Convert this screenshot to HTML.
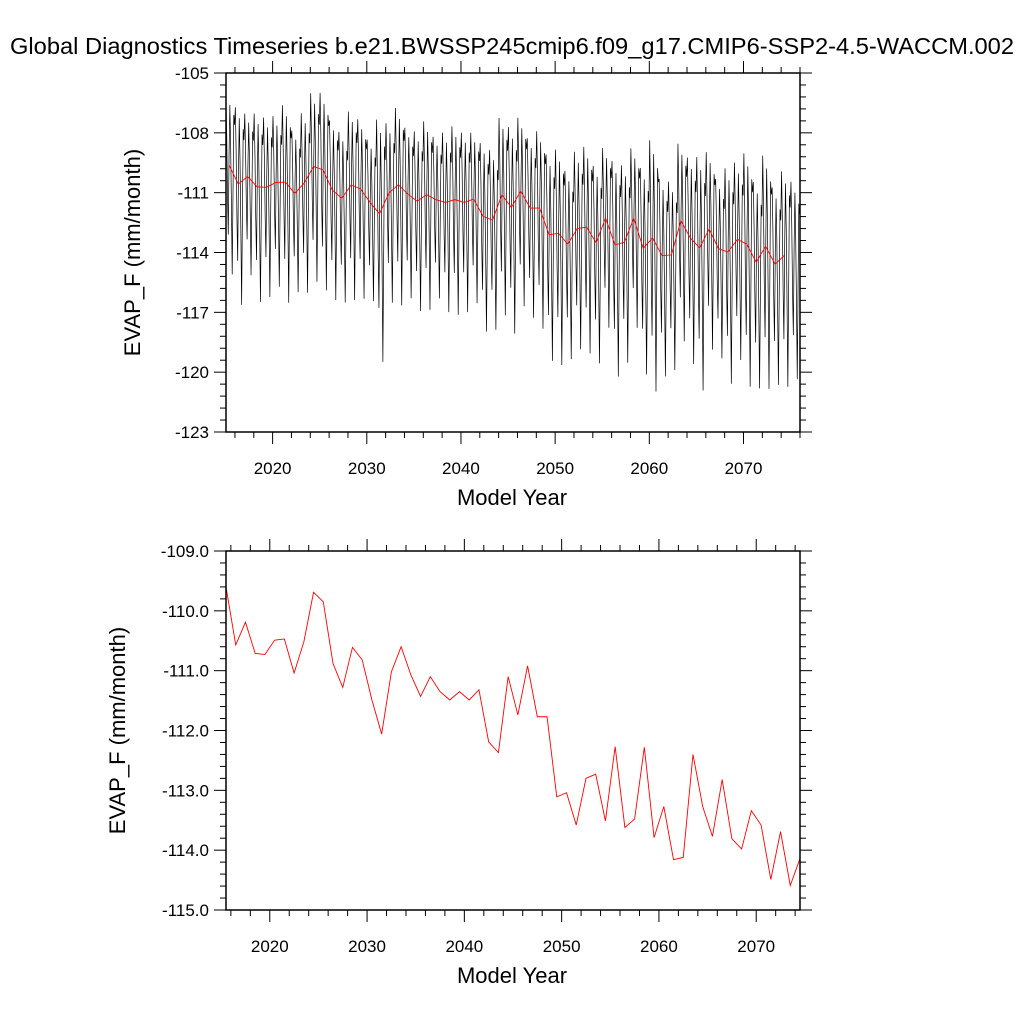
<!DOCTYPE html>
<html><head><meta charset="utf-8"><style>
html,body{margin:0;padding:0;background:#fff;}
svg{display:block;font-family:"Liberation Sans",Arial,sans-serif;}
</style></head><body>
<svg id="chart" width="1024" height="1024" viewBox="0 0 1024 1024" xmlns="http://www.w3.org/2000/svg">
<rect width="1024" height="1024" fill="#fff"/>
<text x="512" y="54" font-size="23" text-anchor="middle" textLength="1004" lengthAdjust="spacingAndGlyphs">Global Diagnostics Timeseries b.e21.BWSSP245cmip6.f09_g17.CMIP6-SSP2-4.5-WACCM.002</text>
<g id="top"></g>
<g id="bot"></g>
</svg>
<script>
const annualMean = [-109.60,-110.57,-110.19,-110.71,-110.73,-110.49,-110.47,-111.04,-110.52,-109.69,
-109.85,-110.88,-111.28,-110.61,-110.82,-111.49,-112.06,-111.02,-110.60,-111.07,
-111.43,-111.10,-111.35,-111.49,-111.35,-111.49,-111.32,-112.19,-112.37,-111.10,
-111.74,-110.92,-111.77,-111.77,-113.11,-113.04,-113.58,-112.80,-112.73,-113.51,
-112.27,-113.62,-113.48,-112.28,-113.79,-113.27,-114.16,-114.12,-112.40,-113.27,
-113.77,-112.82,-113.81,-113.98,-113.34,-113.58,-114.49,-113.69,-114.59,-114.14];
const lastYearMean = -114.3;
const seasonalAnom = [3.5,1.5,-1.5,-3.5,0.5,3.0,1.0,-2.0,-5.5,-1.5,2.5,2.0];
const yearAmp = [1.0,1.1,0.9,1.05,1.0,0.95,1.1,0.9,1.0,1.05,
1.1,1.0,0.95,1.05,1.0,0.9,1.35,1.0,1.1,0.95,
1.0,1.05,0.9,1.0,1.05,1.0,0.95,1.05,1.0,1.1,
1.15,1.05,1.0,1.1,1.15,1.2,1.05,1.1,1.15,1.1,
1.0,1.2,1.1,1.0,1.15,1.4,1.1,1.05,1.1,1.15,
1.3,1.1,1.0,1.2,1.1,1.3,1.15,1.3,1.1,1.2,1.1];
const firstYear = 2015;
const xTickLabels = ["2020","2030","2040","2050","2060","2070"];
const topYTickLabels = ["-105","-108","-111","-114","-117","-120","-123"];
const botYTickLabels = ["-109.0","-110.0","-111.0","-112.0","-113.0","-114.0","-115.0"];

const NS="http://www.w3.org/2000/svg";
function mk(tag,attrs,parent){const e=document.createElementNS(NS,tag);for(const k in attrs)e.setAttribute(k,attrs[k]);parent.appendChild(e);return e;}

const monthlyT=[], monthlyV=[];
for(let y=0;y<yearAmp.length;y++){
  const m0 = y<annualMean.length?annualMean[y]:lastYearMean;
  for(let m=0;m<12;m++){monthlyT.push(firstYear+y+(m+0.5)/12);monthlyV.push(m0+seasonalAnom[m]*yearAmp[y]);}
}

function panel(g,x0,x1,y0,y1,xmin,xmax,ymin,ymax,yLabels,yMinorPer,yTitleX,xTitleY){
  const sx=v=>x0+(v-xmin)/(xmax-xmin)*(x1-x0);
  const sy=v=>y1-(v-ymin)/(ymax-ymin)*(y1-y0);
  const ticks=mk('g',{stroke:'#000','stroke-width':1},g);
  
  
  for(let yr=2016;yr<=2076;yr+=2){
    if(yr<xmin||yr>xmax)continue;
    const x=sx(yr), major=yr%10===0, L=major?12:6;
    mk('line',{x1:x,y1:y1,x2:x,y2:y1+L},ticks);
    mk('line',{x1:x,y1:y0,x2:x,y2:y0-L},ticks);
  }
  xTickLabels.forEach(s=>{
    const t=mk('text',{x:sx(+s),y:y1+42,'font-size':17,'text-anchor':'middle'},g);
    
    
    t.textContent=s;
  });
  const step=(ymax-ymin)/(yLabels.length-1);
  for(let i=0;i<yLabels.length;i++){
    const v=ymax-i*step, y=sy(v);
    mk('line',{x1:x0,y1:y,x2:x0-12,y2:y},ticks);
    mk('line',{x1:x1,y1:y,x2:x1+12,y2:y},ticks);
    if(i<yLabels.length-1){
      for(let k=1;k<yMinorPer;k++){
        const ym=sy(v-k*step/yMinorPer);
        mk('line',{x1:x0,y1:ym,x2:x0-6,y2:ym},ticks);
        mk('line',{x1:x1,y1:ym,x2:x1+6,y2:ym},ticks);
      }
    }
    const t=mk('text',{x:x0-17,y:y+6,'font-size':17,'text-anchor':'end'},g);
    
    
    t.textContent=yLabels[i];
  }
  const yt=mk('text',{x:0,y:0,'font-size':22,'text-anchor':'middle',transform:`translate(${yTitleX},${(y0+y1)/2}) rotate(-90)`},g);
  
  
  yt.textContent='EVAP_F (mm/month)';
  const xt=mk('text',{x:(x0+x1)/2-1,y:xTitleY,'font-size':22,'text-anchor':'middle'},g);
  
  
  xt.textContent='Model Year';
  return {sx,sy};
}

const gt=document.getElementById('top');
const T=panel(gt,226,800,73,432,2015.05,2076.0,-123,-105,topYTickLabels,5,140,505);
let d='';
monthlyT.forEach((t,i)=>{d+=(i?'L':'M')+T.sx(t).toFixed(2)+' '+T.sy(monthlyV[i]).toFixed(2);});
const ml=mk('path',{d:d,fill:'none',stroke:'#000','stroke-width':0.7},gt);


d='';
annualMean.forEach((v,i)=>{d+=(i?'L':'M')+T.sx(firstYear+0.35+i).toFixed(2)+' '+T.sy(v).toFixed(2);});
const al=mk('path',{d:d,fill:'none',stroke:'#f00','stroke-width':0.9},gt);


const f1=mk('rect',{x:226,y:73,width:574,height:359,fill:'none',stroke:'#000','stroke-width':1.5},gt);



const gb=document.getElementById('bot');
const B=panel(gb,226,800,551,910,2015.5,2074.5,-115,-109,botYTickLabels,5,125,983);
d='';
annualMean.forEach((v,i)=>{d+=(i?'L':'M')+B.sx(firstYear+0.5+i).toFixed(2)+' '+B.sy(v).toFixed(2);});
const bl=mk('path',{d:d,fill:'none',stroke:'#f00','stroke-width':0.9},gb);


const f2=mk('rect',{x:226,y:551,width:574,height:359,fill:'none',stroke:'#000','stroke-width':1.5},gb);


</script>
</body></html>
